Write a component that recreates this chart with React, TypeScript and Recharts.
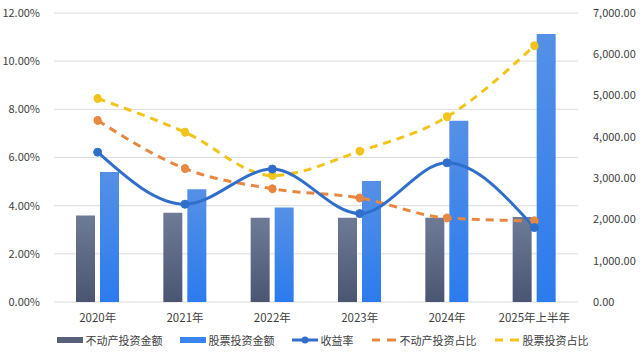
import React from 'react';
import {
  ComposedChart,
  Bar,
  Line,
  XAxis,
  YAxis,
  CartesianGrid,
  Legend,
} from 'recharts';

const years = ['2020年', '2021年', '2022年', '2023年', '2024年', '2025年上半年'];
const realEstateAmount = [2095, 2160, 2040, 2040, 2040, 2060];
const stockAmount = [3150, 2730, 2290, 2930, 4390, 6490];
const yieldRate = [6.22, 4.06, 5.52, 3.67, 5.78, 3.09];
const realEstateShare = [7.54, 5.54, 4.7, 4.32, 3.49, 3.37];
const stockShare = [8.45, 7.05, 5.25, 6.26, 7.69, 10.64];

const leftTicks = [0, 2, 4, 6, 8, 10, 12];
const rightTicks = [0, 1000, 2000, 3000, 4000, 5000, 6000, 7000];

const data = years.map((year, i) => ({
  year,
  realEstateAmount: realEstateAmount[i],
  stockAmount: stockAmount[i],
  yieldRate: yieldRate[i],
  realEstateShare: realEstateShare[i],
  stockShare: stockShare[i],
}));

const FONT = '"Noto Sans CJK SC", "Noto Sans", sans-serif';
const TEXT = '#404040';

const legendItems = [
  { label: '不动产投资金额', kind: 'bar', color: '#566179' },
  { label: '股票投资金额', kind: 'bar', color: '#3a82ec' },
  { label: '收益率', kind: 'line', color: '#2f6fca' },
  { label: '不动产投资占比', kind: 'dash', color: '#e8873f' },
  { label: '股票投资占比', kind: 'dash', color: '#f2c318' },
];

const renderLegend = () => (
  <div
    style={{
      display: 'flex',
      justifyContent: 'center',
      alignItems: 'center',
      gap: 16,
      fontFamily: FONT,
      fontSize: 11,
      color: TEXT,
      paddingLeft: 4,
    }}
  >
    {legendItems.map((item) => (
      <div key={item.label} style={{ display: 'flex', alignItems: 'center' }}>
        <svg width={28} height={12} style={{ marginRight: 2 }}>
          {item.kind === 'bar' && <rect x={1} y={3} width={26} height={6} fill={item.color} />}
          {item.kind === 'line' && (
            <>
              <line x1={1} y1={6} x2={27} y2={6} stroke={item.color} strokeWidth={3} />
              <circle cx={14} cy={6} r={3.5} fill={item.color} />
            </>
          )}
          {item.kind === 'dash' && (
            <>
              <line x1={2} y1={6} x2={10} y2={6} stroke={item.color} strokeWidth={3} />
              <line x1={17} y1={6} x2={26} y2={6} stroke={item.color} strokeWidth={3} />
            </>
          )}
        </svg>
        <span>{item.label}</span>
      </div>
    ))}
  </div>
);

const fmtPct = (v: number) => `${v.toFixed(2)}%`;
const fmtAmt = (v: number) =>
  v.toLocaleString('en-US', { minimumFractionDigits: 2, maximumFractionDigits: 2 });

export default function App() {
  return (
    <div style={{ position: 'absolute', left: 0, top: 0, width: 640, height: 357, background: '#fff' }}>
      <ComposedChart
        width={640}
        height={357}
        data={data}
        margin={{ top: 13, right: 0, bottom: 7, left: 0 }}
        barSize={19}
        barGap={5}
      >
        <defs>
          <linearGradient id="gradDark" x1="0" y1="0" x2="0" y2="1">
            <stop offset="0%" stopColor="#6e7b96" />
            <stop offset="100%" stopColor="#4a5571" />
          </linearGradient>
          <linearGradient id="gradBlue" x1="0" y1="0" x2="0" y2="1">
            <stop offset="0%" stopColor="#5590e6" />
            <stop offset="100%" stopColor="#2c7bee" />
          </linearGradient>
        </defs>
        <CartesianGrid vertical={false} stroke="#dcdcdc" yAxisId="left" />
        <XAxis
          dataKey="year"
          axisLine={false}
          tickLine={false}
          height={30}
          tick={{ fill: TEXT, fontSize: 11.5, fontFamily: FONT }}
          tickMargin={6}
        />
        <YAxis
          yAxisId="left"
          domain={[0, 12]}
          ticks={leftTicks}
          tickFormatter={fmtPct}
          axisLine={false}
          tickLine={false}
          width={54}
          tick={{ fill: TEXT, fontSize: 11, fontFamily: FONT }}
          tickMargin={8}
        />
        <YAxis
          yAxisId="right"
          orientation="right"
          domain={[0, 7000]}
          ticks={rightTicks}
          tickFormatter={fmtAmt}
          axisLine={false}
          tickLine={false}
          width={62}
          tick={{ fill: TEXT, fontSize: 11, fontFamily: FONT, textAnchor: 'start' }}
          tickMargin={9}
        />
        <Legend verticalAlign="bottom" height={18} content={renderLegend} />
        <Bar yAxisId="right" dataKey="realEstateAmount" fill="url(#gradDark)" isAnimationActive={false} />
        <Bar yAxisId="right" dataKey="stockAmount" fill="url(#gradBlue)" isAnimationActive={false} />
        <Line
          yAxisId="left"
          type="monotone"
          dataKey="realEstateShare"
          stroke="#e8873f"
          strokeWidth={3}
          strokeDasharray="8 6"
          dot={{ r: 4, fill: '#e8873f', stroke: '#e8873f', strokeWidth: 1 }}
          isAnimationActive={false}
        />
        <Line
          yAxisId="left"
          type="monotone"
          dataKey="stockShare"
          stroke="#f2c318"
          strokeWidth={3}
          strokeDasharray="8 6"
          dot={{ r: 4, fill: '#f2c318', stroke: '#f2c318', strokeWidth: 1 }}
          isAnimationActive={false}
        />
        <Line
          yAxisId="left"
          type="monotone"
          dataKey="yieldRate"
          stroke="#2f6fca"
          strokeWidth={3}
          dot={{ r: 4, fill: '#2f6fca', stroke: '#2f6fca', strokeWidth: 1 }}
          isAnimationActive={false}
        />
      </ComposedChart>
    </div>
  );
}
